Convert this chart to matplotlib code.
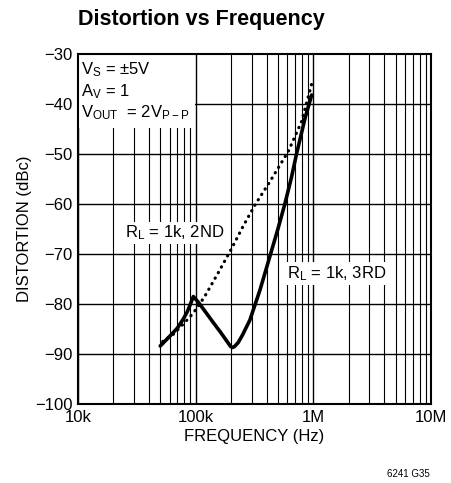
import matplotlib.pyplot as plt
from matplotlib import font_manager

names = {f.name for f in font_manager.fontManager.ttflist}
fam = 'Liberation Sans Narrow' if 'Liberation Sans Narrow' in names else 'Liberation Sans'
plt.rcParams['font.family'] = [fam, 'DejaVu Sans']

# 3rd harmonic (solid)
freq_3rd = [50e3, 60.5e3, 70e3, 78.5e3, 85e3, 90e3, 95.5e3, 105e3, 124e3, 142e3, 161e3, 185e3,
            198e3, 206e3, 214e3, 230e3, 250e3, 289e3, 352e3, 422e3, 500e3, 574e3, 650e3,
            721e3, 849e3, 968e3]
dist_3rd = [-88.4, -86.4, -84.8, -83.0, -81.5, -80.1, -78.5, -79.6, -81.9, -83.8, -85.5, -87.5,
            -88.5, -88.7, -88.5, -87.7, -86.2, -83.2, -77.2, -70.9, -65.0, -59.9, -54.8,
            -49.9, -42.9, -38.2]

# 2nd harmonic (dotted)
freq_2nd = [52.5e3, 65e3, 78.5e3, 90e3, 102e3, 120e3, 156e3, 202e3, 255e3,
            319e3, 428e3, 612e3, 795e3, 986e3]
dist_2nd = [-87.5, -86.0, -84.0, -82.5, -80.9, -78.4, -73.7, -68.9, -64.3,
            -60.2, -55.5, -49.5, -43.5, -35.3]

fig = plt.figure(figsize=(4.51, 4.83), dpi=100)
ax = fig.add_axes([78 / 451, 1 - 404 / 483, 353 / 451, 350 / 483])

ax.set_xscale('log')
ax.set_xlim(1e4, 1e7)
ax.set_ylim(-100, -30)

# grid
for dec in [1e4, 1e5, 1e6]:
    for m in range(1, 10):
        ax.axvline(dec * m, color='black', lw=1.0 if m == 1 else 0.8, zorder=1)
for y in range(-90, -30, 10):
    ax.axhline(y, color='black', lw=1.0, zorder=1)

ax.plot(freq_3rd, dist_3rd, color='black', lw=2.6, zorder=4,
        solid_capstyle='round', solid_joinstyle='round')
ax.plot(freq_2nd, dist_2nd, color='black', lw=2.3, ls=(0, (0.1, 1.9)),
        dash_capstyle='round', zorder=4)

box = dict(facecolor='white', edgecolor='none', pad=1.5)
ax.text(1.06e4, -31.3, '$\\mathregular{V_S}$ = \u00b15V\n'
        '$\\mathregular{A_V}$ = 1\n$\\mathregular{V_{OUT}}$  = 2$\\mathregular{V_{P-P}}$',
        fontsize=12, va='top', ha='left', linespacing=1.2,
        bbox=dict(facecolor='white', edgecolor='none', pad=4), zorder=3)
ax.text(2.5e4, -65.8, '$\\mathregular{R_L}$ = 1k, 2ND', fontsize=12, va='center', ha='left',
        bbox=box, zorder=3)
ax.text(6.0e5, -73.9, '$\\mathregular{R_L}$ = 1k, 3RD', fontsize=12, va='center', ha='left',
        bbox=box, zorder=3)

ax.set_xticks([1e4, 1e5, 1e6, 1e7])
ax.set_xticklabels(['10k', '100k', '1M', '10M'])
ax.xaxis.set_minor_locator(plt.NullLocator())
ax.set_yticks(range(-100, -29, 10))
ax.set_yticklabels(['\u2212%d' % abs(v) for v in range(-100, -29, 10)])
ax.tick_params(length=0, labelsize=12, pad=4)
for s in ax.spines.values():
    s.set_linewidth(1.5)
    s.set_zorder(6)

ax.set_xlabel('FREQUENCY (Hz)', fontsize=12, labelpad=3)
ax.set_ylabel('DISTORTION (dBc)', fontsize=12, labelpad=2)
fig.text(78 / 451, 1 - 19 / 483, 'Distortion vs Frequency', fontsize=15.5, fontweight='bold',
         va='center', ha='left')
fig.text(408 / 451, 1 - 474 / 483, '6241 G35', fontsize=7, ha='center', va='center')

fig.savefig('out.png', dpi=100)
